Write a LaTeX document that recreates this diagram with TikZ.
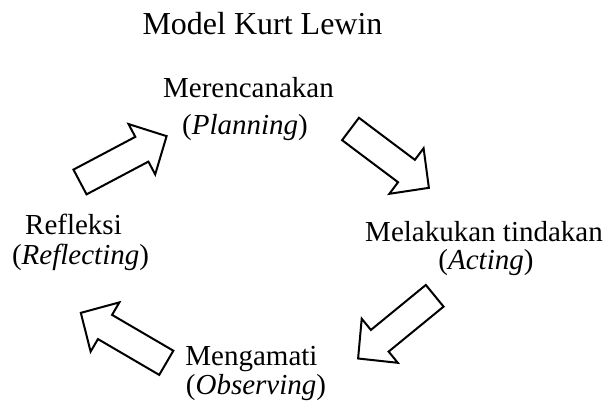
\documentclass[tikz,border=0pt]{standalone}
\usepackage{fontspec}
\setmainfont{Liberation Serif}
\begin{document}
\begin{tikzpicture}[x=1pt,y=1pt,
  lbl/.style={anchor=base,inner sep=0pt,font=\fontsize{29}{34}\selectfont},
  ttl/.style={anchor=base,inner sep=0pt,font=\fontsize{32}{38}\selectfont},
  arrowline/.style={draw=black,fill=white,line width=2pt,line join=miter},
  pics/blockarrow/.style={code={
    \draw[arrowline] (0,-14) -- (#1-28,-14) -- (#1-28,-28.5) -- (#1,0)
      -- (#1-28,28.5) -- (#1-28,14) -- (0,14) -- cycle;}}]
\useasboundingbox (0,0) rectangle (608,407);
% title
\node[ttl] (title) at (262.5,372) {Model Kurt Lewin};
% labels
\node[lbl] (planA) at (248.5,309) {Merencanakan};
\node[lbl] (planB) at (245,272) {(\textit{Planning})};
\node[lbl] (actA) at (484,165) {Melakukan tindakan};
\node[lbl] (actB) at (486,137) {(\textit{Acting})};
\node[lbl] (obsA) at (251.5,41) {Mengamati};
\node[lbl] (obsB) at (256,12) {(\textit{Observing})};
\node[lbl] (refA) at (73.5,172) {Refleksi};
\node[lbl] (refB) at (80.5,142) {(\textit{Reflecting})};
% block arrows
\pic[rotate=27.9] (a1) at (80,225) {blockarrow=98};
\pic[rotate=-36.9] (a2) at (350.5,278) {blockarrow=98};
\pic[rotate=219.3] (a3) at (434.7,111.2) {blockarrow=99};
\pic[rotate=149.7] (a4) at (166.3,44.2) {blockarrow=99};
\end{tikzpicture}
\end{document}
